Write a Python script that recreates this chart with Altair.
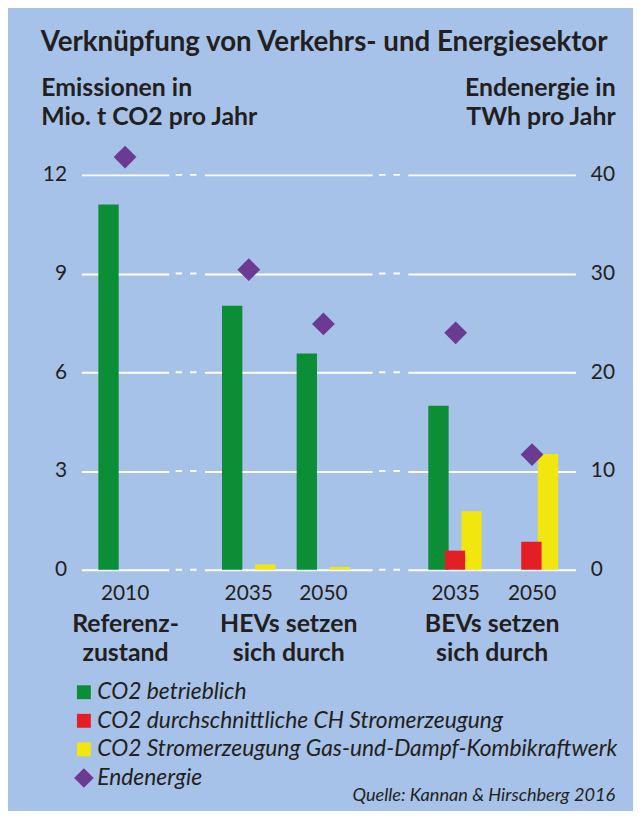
import altair as alt
import pandas as pd

# ---------------- data ----------------
groups = ["Referenz", "HEV", "HEV", "BEV", "BEV"]
years = ["2010", "2035", "2050", "2035", "2050"]
co2_betrieblich = [11.1, 8.02, 6.57, 4.98, 0.0]
co2_ch = [0.0, 0.0, 0.0, 0.58, 0.85]
co2_gud = [0.0, 0.16, 0.08, 1.78, 3.52]
endenergie = [41.8, 30.4, 24.9, 24.0, 11.67]

series_names = [
    "CO2 betrieblich",
    "CO2 durchschnittliche CH Stromerzeugung",
    "CO2 Stromerzeugung Gas-und-Dampf-Kombikraftwerk",
    "Endenergie",
]
group_titles = {
    "Referenz": ["Referenz-", "zustand"],
    "HEV": ["HEVs setzen", "sich durch"],
    "BEV": ["BEVs setzen", "sich durch"],
}
emission_ticks = [0, 3, 6, 9, 12]
energy_ticks = [0, 10, 20, 30, 40]
title_text = "Verknüpfung von Verkehrs- und Energiesektor"
left_title = ["Emissionen in", "Mio. t CO2 pro Jahr"]
right_title = ["Endenergie in", "TWh pro Jahr"]
source_text = "Quelle: Kannan & Hirschberg 2016"

# ---------------- style ----------------
colors = ["#0c8e37", "#e31e25", "#f1e60d", "#6a3b90"]
DIAMOND = "M0,-1.414L1.414,0L0,1.414L-1.414,0Z"
shapes = ["square", "square", "square", DIAMOND]
FONT = "Lato"
INK = "#231f20"
BG = "#a6c2e8"

# ---------------- tables ----------------
series_values = [co2_betrieblich, co2_ch, co2_gud]
draw_order = [0, 2, 1]  # green, yellow, red on top
bar_rows = []
for i in range(len(groups)):
    for s in draw_order:
        v = series_values[s][i]
        if v > 0:
            bar_rows.append({"group": groups[i], "year": years[i],
                             "series": series_names[s], "value": v})
bars_df = pd.DataFrame(bar_rows)
pts_df = pd.DataFrame({"group": groups, "year": years,
                       "series": series_names[3], "value": endenergie})
ticks_df = pd.DataFrame({"tick": emission_ticks})
src_df = pd.DataFrame({"t": [source_text]})

legend = alt.Legend(
    title=None, orient="none", legendX=-9, legendY=510, direction="vertical",
    labelFont=FONT, labelFontStyle="italic", labelFontSize=23, labelColor=INK,
    labelLimit=0, symbolSize=196, symbolStrokeWidth=0, symbolOpacity=1,
    rowPadding=4.8, labelOffset=2, padding=0,
)

# per-panel band layout: (width, paddingOuter, align)
layout = {"Referenz": (88, 0.253, 0.5), "HEV": (169, 0.29, 0.45),
          "BEV": (169, 0.264, 0.555)}


def panel(gkey, first=False, last=False):
    width, po, align = layout[gkey]
    b = bars_df[bars_df.group == gkey]
    p = pts_df[pts_df.group == gkey]
    yrs = [y for g, y in zip(groups, years) if g == gkey]
    xaxis = alt.Axis(
        title=group_titles[gkey], labelAngle=0, ticks=False, domain=False,
        labelFont=FONT, labelFontSize=21, labelColor=INK, labelPadding=13,
        titleFont=FONT, titleFontSize=25, titleFontWeight="bold",
        titleColor=INK, titleLineHeight=29.5, titlePadding=8,
    )
    xenc = alt.X("year:N", sort=yrs,
                 scale=alt.Scale(domain=yrs, paddingInner=1 / 3,
                                 paddingOuter=po, align=align),
                 axis=xaxis)
    lg = legend if first else None
    color = alt.Color("series:N",
                      scale=alt.Scale(domain=series_names, range=colors),
                      legend=lg)
    shape = alt.Shape("series:N",
                      scale=alt.Scale(domain=series_names, range=shapes),
                      legend=lg)
    if first:
        yaxis = alt.Axis(
            values=emission_ticks, grid=True, gridColor="white", gridWidth=2,
            gridOpacity=1, ticks=False, domain=False, labels=True,
            labelFont=FONT, labelFontSize=21, labelColor=INK, labelPadding=15,
            title=left_title, titleAngle=0, titleAlign="left",
            titleBaseline="alphabetic", titleX=-41, titleY=-80,
            titleFont=FONT, titleFontSize=25, titleFontWeight="bold",
            titleColor=INK, titleLineHeight=29.5,
        )
    else:
        yaxis = alt.Axis(values=emission_ticks, grid=True, gridColor="white",
                         gridWidth=2, gridOpacity=1, ticks=False,
                         domain=False, labels=False, title=None)
    bar = alt.Chart(b).mark_bar(width=20.5).encode(
        x=xenc,
        xOffset=alt.XOffset("series:N",
                            scale=alt.Scale(domain=series_names[:3])),
        y=alt.Y("value:Q", scale=alt.Scale(domain=[0, 12]), axis=yaxis),
        color=color,
    )
    if last:
        raxis = alt.Axis(
            orient="right", values=energy_ticks, grid=False, ticks=False,
            domain=False, labelFont=FONT, labelFontSize=21, labelColor=INK,
            labelPadding=15,
            title=right_title, titleAngle=0, titleAlign="right",
            titleBaseline="alphabetic", titleX=40, titleY=-80,
            titleFont=FONT, titleFontSize=25, titleFontWeight="bold",
            titleColor=INK, titleLineHeight=29.5,
        )
    else:
        raxis = None
    pts = alt.Chart(p).mark_point(filled=True, opacity=1, size=264,
                                  strokeWidth=0).encode(
        x=xenc,
        y=alt.Y("value:Q", scale=alt.Scale(domain=[0, 40]), axis=raxis),
        color=color,
        shape=shape,
    )
    layers = [bar, pts]
    if not first:
        dashes = alt.Chart(ticks_df).mark_rule(
            color="white", strokeWidth=2, strokeDash=[6.5, 8, 6.5, 8]
        ).encode(
            y=alt.Y("tick:Q", scale=alt.Scale(domain=[0, 12]), axis=None),
            x=alt.value(-29), x2=alt.value(-8),
        )
        layers.append(dashes)
    if last:
        src = alt.Chart(src_df).mark_text(
            align="right", baseline="middle", font=FONT, fontStyle="italic",
            fontSize=18.3, color=INK,
        ).encode(x=alt.value(209), y=alt.value(626), text="t:N")
        layers.append(src)
    return alt.layer(*layers).resolve_scale(y="independent").properties(
        width=width, height=398)


p1 = panel("Referenz", first=True)
p2 = panel("HEV")
p3 = panel("BEV", last=True)

chart = alt.hconcat(p1, p2, p3, spacing=36, bounds="flush").resolve_scale(
    x="independent", y="independent", color="independent",
    shape="independent",
).resolve_legend(color="independent", shape="independent").properties(
    title=alt.TitleParams(title_text, anchor="start", font=FONT, fontSize=27.9,
                          fontWeight="bold", color=INK, offset=19),
    background=BG,
    padding={"left": 33, "top": 18, "right": 15, "bottom": 3},
).configure_view(stroke=None)

chart.save("out.html", embed_options={"renderer": "svg", "actions": False})
